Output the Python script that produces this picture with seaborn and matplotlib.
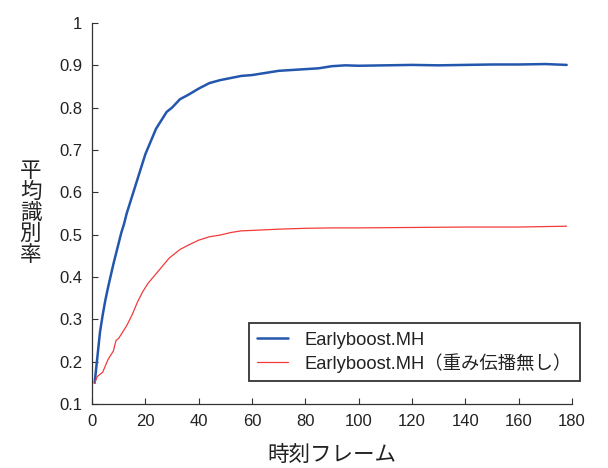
import matplotlib
matplotlib.use("Agg")
import matplotlib.pyplot as plt
import seaborn as sns
import pandas as pd

blue_x = [1, 2, 3, 4, 5, 6, 8, 10, 11, 12, 13, 14, 16, 18, 20, 22, 24, 26, 28, 30, 33, 36, 40, 44, 48,
          52, 56, 60, 65, 70, 75, 80, 85, 90, 95, 100, 110, 120, 130, 140, 150, 160, 170, 178]
blue_y = [0.15, 0.21, 0.27, 0.31, 0.345, 0.375, 0.43, 0.48, 0.505, 0.525, 0.55, 0.57, 0.61, 0.65, 0.69,
          0.72, 0.75, 0.77, 0.79, 0.80, 0.82, 0.83, 0.845, 0.858, 0.865, 0.87, 0.875, 0.877, 0.882, 0.887,
          0.889, 0.891, 0.893, 0.898, 0.900, 0.899, 0.900, 0.901, 0.900, 0.901, 0.902, 0.902, 0.903, 0.901]

red_x = [1, 2, 3, 4, 5, 6, 7, 8, 9, 10, 11, 13, 15, 17, 19, 21, 23, 25, 27, 29, 31, 33, 36, 40, 44, 48,
         52, 56, 60, 70, 80, 90, 100, 120, 140, 160, 178]
red_y = [0.15, 0.165, 0.17, 0.175, 0.19, 0.205, 0.215, 0.225, 0.25, 0.255, 0.265, 0.285, 0.31, 0.34,
         0.365, 0.385, 0.40, 0.415, 0.43, 0.445, 0.455, 0.465, 0.475, 0.487, 0.495, 0.499, 0.505, 0.509,
         0.510, 0.513, 0.515, 0.516, 0.516, 0.517, 0.518, 0.518, 0.520]

series_names = ["Earlyboost.MH", "Earlyboost.MH（重み伝播無し）"]
x_ticks = [0, 20, 40, 60, 80, 100, 120, 140, 160, 180]
y_ticks = [0.1, 0.2, 0.3, 0.4, 0.5, 0.6, 0.7, 0.8, 0.9, 1.0]
y_tick_labels = ["0.1", "0.2", "0.3", "0.4", "0.5", "0.6", "0.7", "0.8", "0.9", "1"]
x_label = "時刻フレーム"
y_label = "平均識別率"

sns.set_style("ticks")
plt.rcParams["font.family"] = ["Liberation Sans", "Noto Sans CJK JP", "DejaVu Sans"]

df_blue = pd.DataFrame({"x": blue_x, "y": blue_y})
df_red = pd.DataFrame({"x": red_x, "y": red_y})

fig = plt.figure(figsize=(6.08, 4.68), dpi=100)
ax = fig.add_axes([92 / 608, 64 / 468, 480 / 608, 381 / 468])

sns.lineplot(data=df_blue, x="x", y="y", ax=ax, color="#2356ad", linewidth=1.8, label=series_names[0])
sns.lineplot(data=df_red, x="x", y="y", ax=ax, color="#f23a3a", linewidth=0.9, label=series_names[1])

ax.set_xlim(0, 180)
ax.set_ylim(0.1, 1.0)
ax.set_xticks(x_ticks)
ax.set_xticklabels([str(t) for t in x_ticks])
ax.set_yticks(y_ticks)
ax.set_yticklabels(y_tick_labels)
ax.tick_params(direction="in", length=4, width=0.8, colors="#333333", labelsize=12, labelcolor="#222222", pad=7)
for s in ["top", "right"]:
    ax.spines[s].set_visible(False)
for s in ["left", "bottom"]:
    ax.spines[s].set_color("#333333")
    ax.spines[s].set_linewidth(0.9)

ax.set_xlabel(x_label, fontsize=15.5, color="#222222", labelpad=12)
ax.set_ylabel("\n".join(y_label), fontsize=15.5, rotation=0, color="#222222", linespacing=1.0)
ax.yaxis.set_label_coords(-0.128, 0.5)
ax.yaxis.label.set_va("center")

leg = ax.legend(loc="lower right", bbox_to_anchor=(1.017, 0.06), borderaxespad=0, fontsize=13.2,
                frameon=True, fancybox=False, edgecolor="black", handlelength=1.7, handletextpad=0.9,
                borderpad=0.45, labelspacing=0.25)
leg.get_frame().set_linewidth(1.3)
for t in leg.get_texts():
    t.set_color("#222222")

fig.savefig("out.png", dpi=100)
